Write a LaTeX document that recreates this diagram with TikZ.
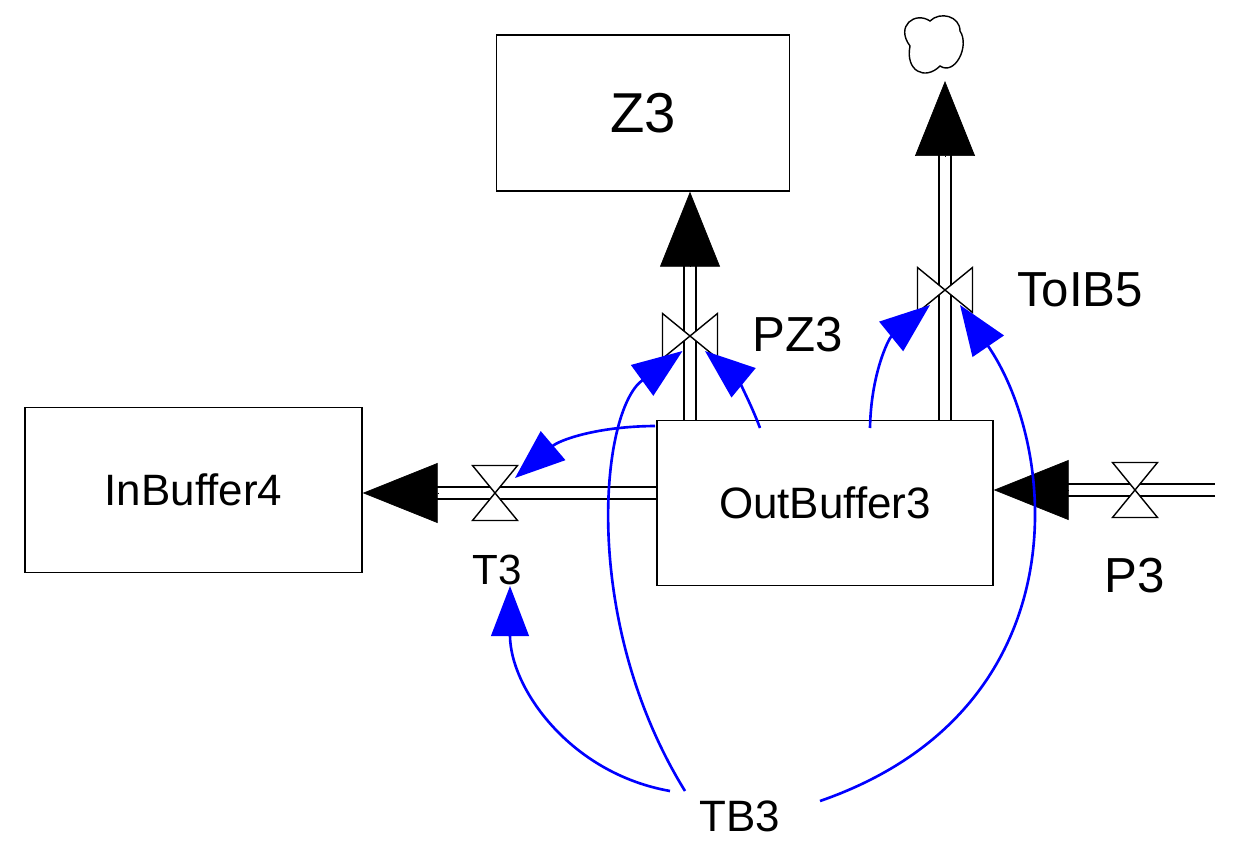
\documentclass[tikz,border=0pt]{standalone}
\usepackage{fontspec}
\setmainfont{Liberation Sans}
\usetikzlibrary{arrows.meta,positioning,calc}
\tikzset{
  stock/.style={draw, thick, fill=white, font=\fontsize{25}{27}\selectfont},
  pipe/.style={draw, line width=1.2pt, double, double distance=2mm},
  flowhead/.style={fill=black, -{Triangle[length=15mm,width=12mm]}},
  link/.style={draw=blue, line width=1.5pt, -{Triangle[length=10mm,width=7.5mm]}},
  lbl/.style={font=\fontsize{28}{30}\selectfont},
  vh/.pic={\draw[thick,fill=white] (-0.45,0.55)--(0.45,0.55)--(-0.45,-0.55)--(0.45,-0.55)--cycle;},
  vv/.pic={\draw[thick,fill=white] (-0.55,0.45)--(-0.55,-0.45)--(0.55,0.45)--(0.55,-0.45)--cycle;}
}
\begin{document}
\begin{tikzpicture}
  \useasboundingbox (0,0) rectangle (24.74,17.02);
  % stocks
  \node[stock, minimum width=5.86cm, minimum height=3.12cm, font=\fontsize{32}{34}\selectfont] (Z3) at (12.86,14.76) {Z3};
  \node[stock, minimum width=6.74cm, minimum height=3.3cm] (InBuffer4) at (3.87,7.22) {InBuffer4};
  \node[stock, minimum width=6.72cm, minimum height=3.3cm] (OutBuffer3) at (16.5,6.96) {OutBuffer3};
  % cloud
  \draw[thick] (18.2,16.1) .. controls (17.9,16.5) and (18.3,16.8) .. (18.6,16.6)
    .. controls (18.8,16.8) and (19.2,16.7) .. (19.2,16.4)
    .. controls (19.4,16.1) and (19.1,15.5) .. (18.8,15.7)
    .. controls (18.5,15.4) and (18.1,15.6) .. (18.2,16.1) -- cycle;
  \coordinate (cloud) at (18.9,15.4);
  % valve positions
  \coordinate (T3) at (9.9,7.16);
  \coordinate (PZ3) at (13.8,10.3);
  \coordinate (ToIB5) at (18.9,11.22);
  \coordinate (P3) at (22.7,7.22);
  \coordinate (src) at (24.3,7.22);
  % pipes
  \draw[pipe] (OutBuffer3.west |- T3) -- (T3) -- (8.74,7.16);
  \draw[flowhead] (8.75,7.16) -- (InBuffer4.east |- T3);
  \draw[pipe] (PZ3 |- OutBuffer3.north) -- (PZ3) -- (13.8,11.72);
  \draw[flowhead] (13.8,11.7) -- (PZ3 |- Z3.south);
  \draw[pipe] (ToIB5 |- OutBuffer3.north) -- (ToIB5) -- (18.9,13.92);
  \draw[flowhead] (18.9,13.9) -- (cloud);
  \draw[pipe] (src) -- (P3) -- (21.34,7.22);
  \draw[flowhead] (21.35,7.22) -- (OutBuffer3.east |- P3);
  % valves
  \pic at (T3) {vh};
  \pic at (P3) {vh};
  \pic at (PZ3) {vv};
  \pic at (ToIB5) {vv};
  % labels
  \node[lbl, font=\fontsize{24}{26}\selectfont] (T3l) at (9.95,5.62) {T3};
  \node[lbl] (P3l) at (22.7,5.5) {P3};
  \node[lbl] (PZ3l) at (15.95,10.32) {PZ3};
  \node[lbl] (ToIB5l) at (21.6,11.22) {ToIB5};
  \node[lbl, font=\fontsize{25}{27}\selectfont] (TB3) at (14.8,0.7) {TB3};
  % links
  \draw[link] (13.1,8.5) to[bend right=20] ($(T3)+(0.4,0.3)$);
  \draw[link] (15.2,8.46) to[bend right=15] ($(PZ3)+(0.3,-0.3)$);
  \draw[link] (17.4,8.46) to[bend left=25] ($(ToIB5)+(-0.3,-0.3)$);
  \draw[link] (13.4,1.2) to[out=170,in=-90] (10.2,5.3);
  \draw[link] (13.7,1.2) .. controls (11.6,4.6) and (12.0,8.8) .. ($(PZ3)+(-0.15,-0.3)$);
  \draw[link] (16.4,1.0) .. controls (21.6,2.8) and (21.2,8.0) .. ($(ToIB5)+(0.3,-0.3)$);
\end{tikzpicture}
\end{document}
